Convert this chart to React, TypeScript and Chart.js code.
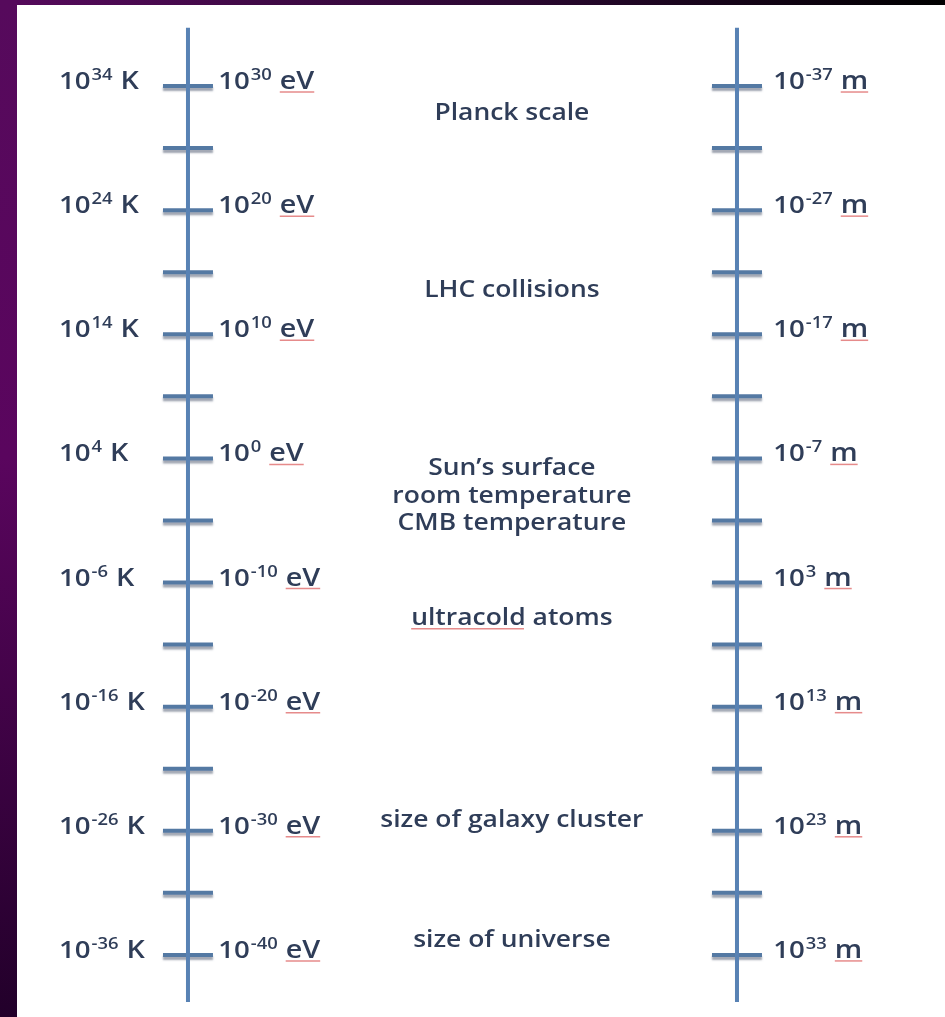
import { useEffect, useRef } from "react";
import { Chart, registerables } from "chart.js";

Chart.register(...registerables);

// ---- data ----
// Major ticks, in log10(energy / eV)
const energyExponents = [30, 20, 10, 0, -10, -20, -30, -40];
// Unlabelled minor ticks between them
const minorTickExponents = [25, 15, 5, -5, -15, -25, -35];
// Temperature labels (log10 K) for each major tick
const kelvinExponents = [34, 24, 14, 4, -6, -16, -26, -36];
// Length labels (log10 m) for each major tick on the right axis
const meterExponents = [-37, -27, -17, -7, 3, 13, 23, 33];
// Phenomena written between the axes and their level (log10 eV)
const phenomenaLabels = [
  "Planck scale",
  "LHC collisions",
  "Sun’s surface",
  "room temperature",
  "CMB temperature",
  "ultracold atoms",
  "size of galaxy cluster",
  "size of universe",
];
const phenomenaLevels = [27.3, 13.0, -1.3, -3.6, -5.8, -13.4, -29.7, -39.4];
// Extent of the two vertical axes (log10 eV)
const axisExtent = [34.7, -43.8];
// Columns: energy/temperature axis and length axis
const axisColumns = [0, 10];

const FONT = '"Open Sans", sans-serif';
const TEXT = "#2f3d58";
const SX = 1.15;

function drawText(ctx: CanvasRenderingContext2D, text: string, x: number, y: number, size: number, align: "left" | "center") {
  ctx.save();
  ctx.font = `600 ${size}px ${FONT}`;
  ctx.textAlign = align;
  ctx.textBaseline = "alphabetic";
  ctx.translate(x, y);
  ctx.scale(SX, 1);
  ctx.fillText(text, 0, 0);
  const w = ctx.measureText(text).width * SX;
  ctx.restore();
  return w;
}

function drawPower(ctx: CanvasRenderingContext2D, x: number, y: number, exp: number, unit: string, underline: boolean) {
  let cx = x;
  cx += drawText(ctx, "10", cx, y, 24, "left");
  cx += 1;
  cx += drawText(ctx, String(exp), cx, y - 9, 16, "left");
  cx += 8;
  const uw = drawText(ctx, unit, cx, y, 25, "left");
  if (underline) {
    ctx.save();
    ctx.strokeStyle = "rgba(220,90,90,0.7)";
    ctx.lineWidth = 1.5;
    ctx.beginPath();
    ctx.moveTo(cx, y + 3);
    ctx.lineTo(cx + uw, y + 3);
    ctx.stroke();
    ctx.restore();
  }
}

const framePlugin = {
  id: "frame",
  beforeDraw(chart: any) {
    const { ctx, width, height } = chart;
    ctx.save();
    ctx.fillStyle = "#ffffff";
    ctx.fillRect(0, 0, width, height);
    const top = ctx.createLinearGradient(0, 0, width, 0);
    top.addColorStop(0, "#560a5c");
    top.addColorStop(0.55, "#2a0830");
    top.addColorStop(1, "#000000");
    ctx.fillStyle = top;
    ctx.fillRect(0, 0, width, 5);
    const left = ctx.createLinearGradient(0, 0, 0, height);
    left.addColorStop(0, "#560a5c");
    left.addColorStop(0.45, "#5a055e");
    left.addColorStop(1, "#22002a");
    ctx.fillStyle = left;
    ctx.fillRect(0, 0, 17, height);
    ctx.restore();
  },
};

const shadowPlugin = {
  id: "tickShadow",
  beforeDatasetDraw(chart: any, args: any) {
    if (args.index === 2) {
      const ctx = chart.ctx;
      ctx.save();
      ctx.shadowColor = "rgba(95,105,125,0.6)";
      ctx.shadowOffsetY = 3;
      ctx.shadowBlur = 2;
    }
  },
  afterDatasetDraw(chart: any, args: any) {
    if (args.index === 2) chart.ctx.restore();
  },
};

const labelPlugin = {
  id: "labels",
  afterDatasetsDraw(chart: any) {
    const { ctx } = chart;
    const xs = chart.scales.x;
    const ys = chart.scales.y;
    ctx.save();
    ctx.fillStyle = TEXT;
    energyExponents.forEach((e, i) => {
      const y = ys.getPixelForValue(e) + 3;
      drawPower(ctx, xs.getPixelForValue(-2.35), y, kelvinExponents[i], "K", false);
      drawPower(ctx, xs.getPixelForValue(0.55), y, e, "eV", true);
      drawPower(ctx, xs.getPixelForValue(10.66), y, meterExponents[i], "m", true);
    });
    phenomenaLabels.forEach((t, i) => {
      const y = ys.getPixelForValue(phenomenaLevels[i]);
      const cx = xs.getPixelForValue(5.9);
      const w = drawText(ctx, t, cx, y, 23, "center");
      if (t.startsWith("ultracold")) {
        const x0 = cx - w / 2;
        ctx.save();
        ctx.strokeStyle = "rgba(220,90,90,0.7)";
        ctx.lineWidth = 1.5;
        ctx.beginPath();
        ctx.moveTo(x0, y + 4);
        ctx.lineTo(x0 + w * 0.56, y + 4);
        ctx.stroke();
        ctx.restore();
      }
    });
    ctx.restore();
  },
};

export default function App() {
  const ref = useRef<HTMLCanvasElement>(null);
  useEffect(() => {
    document.body.style.margin = "0";
    const tickPoints: { x: number; y: number }[] = [];
    axisColumns.forEach((c) => {
      [...energyExponents, ...minorTickExponents].forEach((e) => tickPoints.push({ x: c, y: e }));
    });
    const chart = new Chart(ref.current!, {
      type: "scatter",
      data: {
        datasets: [
          {
            type: "line",
            data: axisExtent.map((y) => ({ x: axisColumns[0], y })),
            borderColor: "#5882b4",
            borderWidth: 4,
            pointRadius: 0,
          },
          {
            type: "line",
            data: axisExtent.map((y) => ({ x: axisColumns[1], y })),
            borderColor: "#5882b4",
            borderWidth: 4,
            pointRadius: 0,
          },
          {
            data: tickPoints,
            pointStyle: "line",
            pointRadius: 25,
            pointBorderWidth: 4,
            pointBorderColor: "#5479a3",
            pointBackgroundColor: "#5479a3",
          },
        ],
      },
      options: {
        animation: false,
        responsive: true,
        maintainAspectRatio: false,
        layout: { padding: 0, autoPadding: false },
        plugins: { legend: { display: false }, tooltip: { enabled: false } },
        events: [],
        scales: {
          x: { type: "linear", display: false, min: -3.424, max: 13.789 },
          y: { type: "linear", display: false, min: -45.0, max: 36.93 },
        },
      },
      plugins: [framePlugin, shadowPlugin, labelPlugin],
    } as any);
    return () => chart.destroy();
  }, []);
  return (
    <div style={{ position: "fixed", left: 0, top: 0, width: 945, height: 1017 }}>
      <canvas ref={ref} />
    </div>
  );
}
